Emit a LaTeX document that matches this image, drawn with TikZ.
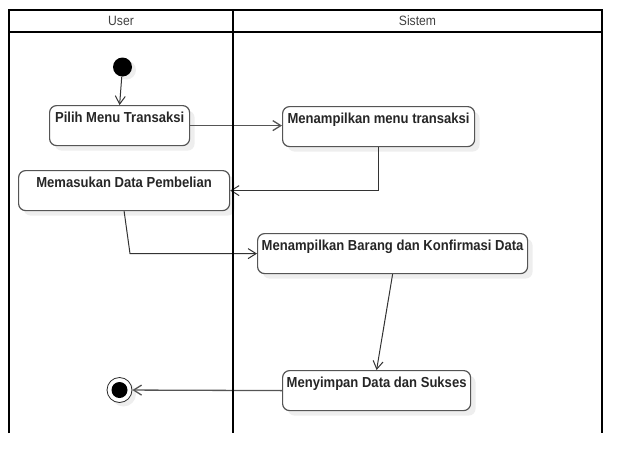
\documentclass[tikz,border=0pt]{standalone}
\usepackage{fontspec}
\setmainfont{Liberation Sans}
\newfontfamily\boxfont{Liberation Sans}[FakeStretch=0.9]
\usetikzlibrary{arrows.meta,shadows}
\definecolor{boxline}{HTML}{555555}
\definecolor{connc}{HTML}{333333}
\definecolor{shade}{HTML}{EEEEEE}
\begin{document}
\begin{tikzpicture}[x=1pt,y=-1pt,
  act/.style={anchor=north west, draw=boxline, line width=1.2pt, rounded corners=7pt,
    fill=white, inner xsep=0pt, inner ysep=0pt, text height=17pt, text depth=23pt,
    font=\boxfont\bfseries\fontsize{14.5pt}{17pt}\selectfont, text=black!85,
    drop shadow={shadow xshift=5pt, shadow yshift=-5pt, fill=shade, opacity=1}},
  connector/.style={draw=connc, line width=1pt, -{Straight Barb[length=8pt,width=10pt]}},
  frame/.style={draw=black, line width=2.6pt},
  lane/.style={font=\boxfont\fontsize{13.5pt}{15pt}\selectfont, text=black!75, inner sep=0pt}]
\useasboundingbox (0,0) rectangle (642,474);

% activity nodes
\node[act, minimum width=140pt] (pilih) at (49,105) {Pilih Menu Transaksi};
\node[act, minimum width=211pt] (masuk) at (18,170) {Memasukan Data Pembelian};
\node[act, minimum width=192pt] (menu) at (282,106) {Menampilkan menu transaksi};
\node[act, minimum width=270pt] (barang) at (257,233) {Menampilkan Barang dan Konfirmasi Data};
\node[act, minimum width=188pt] (simpan) at (282,370) {Menyimpan Data dan Sukses};

% start and end
\node[circle, fill=black, minimum size=19pt, inner sep=0pt,
  drop shadow={shadow xshift=4pt, shadow yshift=-3pt, fill=shade, opacity=1}] (start) at (122.5,67) {};
\node[circle, draw=black!85, line width=0.8pt, fill=white, minimum size=25pt, inner sep=0pt,
  drop shadow={shadow xshift=4pt, shadow yshift=-4pt, fill=shade, opacity=1}] (end) at (119.5,390) {};
\node[circle, fill=black, minimum width=15pt, minimum height=16pt, inner sep=0pt] (endin) at (end) {};

% connectors
\coordinate (bend) at (130,0);
\draw[connector] (start) -- (pilih.north);
\draw[connector, draw=boxline, line width=1.3pt] (pilih.east) -- (pilih.east -| menu.west);
\draw[connector] (menu.south) |- (masuk.east);
\draw[connector] (masuk.south) -- (bend |- barang.west) -- (barang.west);
\draw[connector] (barang.south) -- (simpan.north);
\draw[connector, draw=boxline, line width=1.3pt] (simpan.west) -- (end);

% swimlane frame
\draw[frame] (9,433) -- (9,10) -- (602,10) -- (602,433);
\draw[frame] (9,32) -- (602,32);
\draw[frame] (233,10) -- (233,433);
\node[lane] (user) at (121,21) {User};
\node[lane] (sistem) at (417.5,21) {Sistem};
\end{tikzpicture}
\end{document}
